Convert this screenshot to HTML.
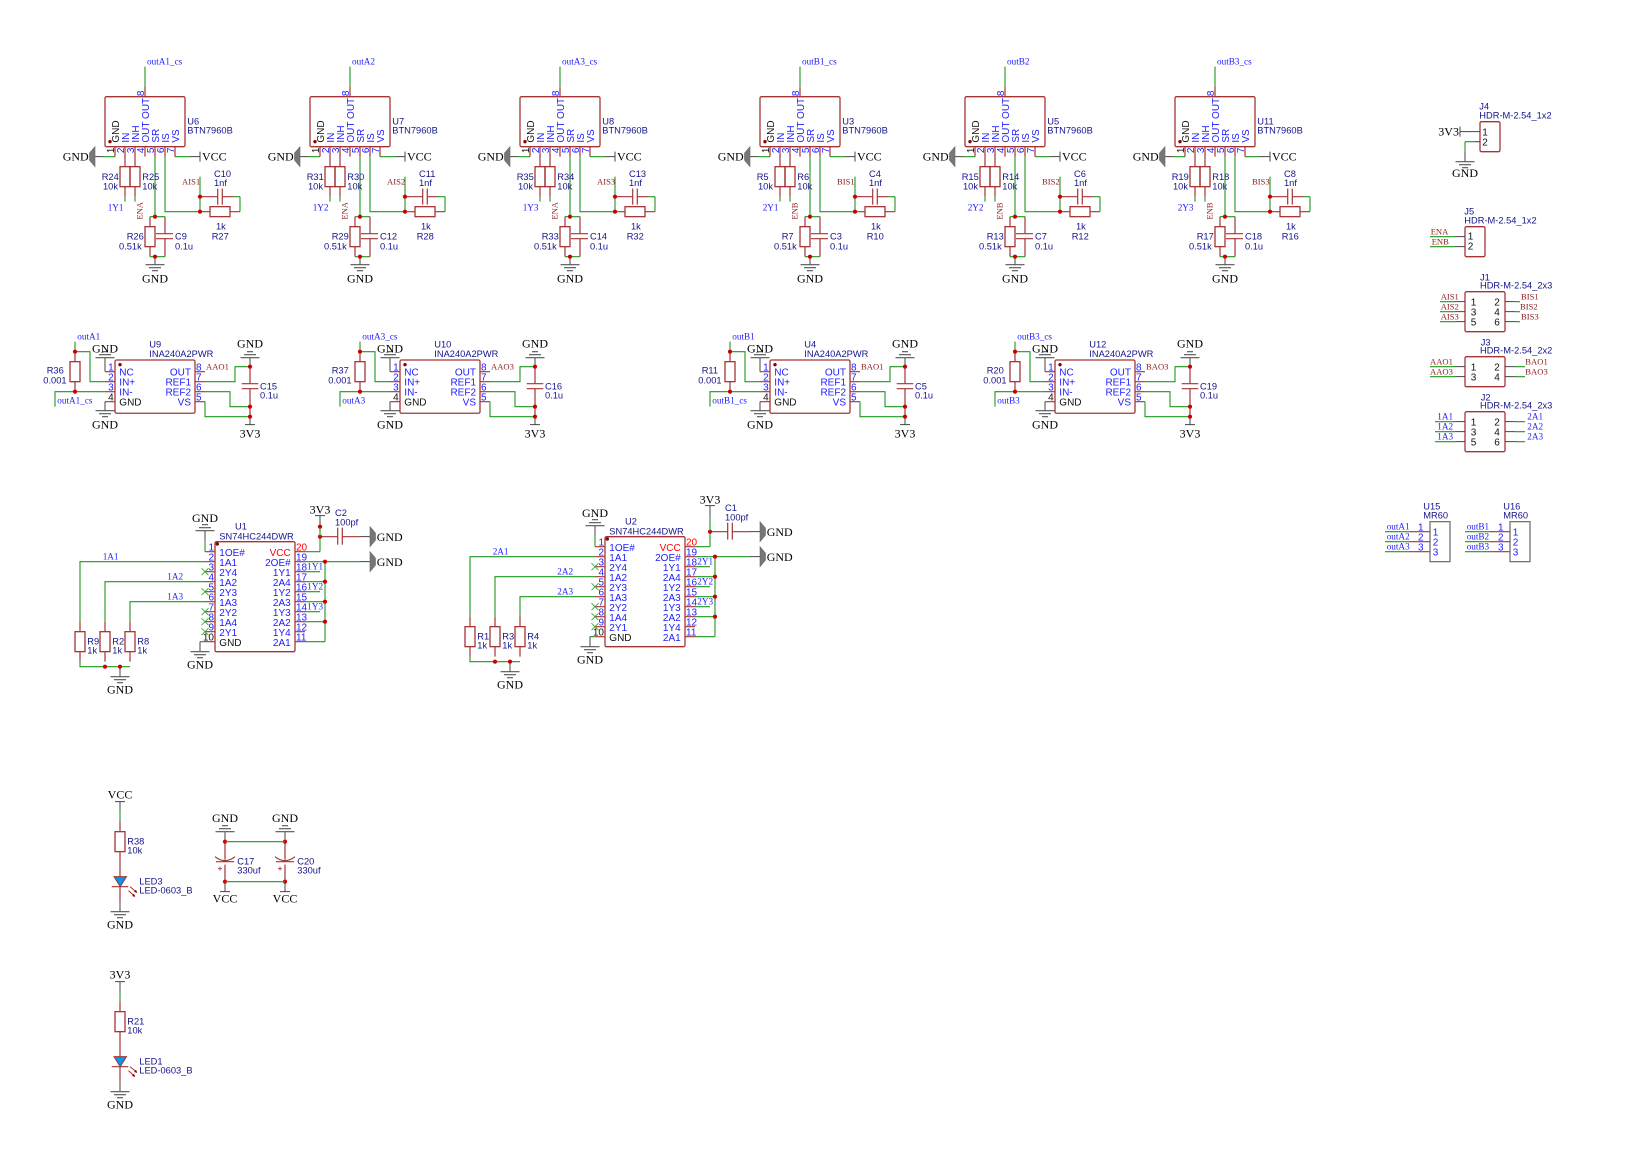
<!DOCTYPE html>
<html><head><meta charset="utf-8"><title>Schematic</title>
<style>
html,body{margin:0;padding:0;background:#fff}
svg{display:block}
.p{stroke:#a53535;stroke-width:1.2;fill:none}
.w{stroke:#1f961f;stroke-width:1.1;fill:none}
.g{stroke:#444;stroke-width:1;fill:none}
.t{stroke:#555;stroke-width:1.2;fill:none}
.o{stroke:#a53535;stroke-width:1.3;fill:none}
.dot{fill:#cc0000}
.pd{fill:#880000}
text{font-family:"Liberation Sans",sans-serif;font-size:9.3px;fill:#14148c}
text:not([transform]){transform:translateY(.6px)}
.n{font-size:10px;fill:#1c1cff}
.k{font-size:10px;fill:#111}
.r{font-size:10px;fill:#ff0000}
.b{font-family:"Liberation Serif",serif;font-size:9.2px;fill:#1c1cff}
.m{font-family:"Liberation Serif",serif;font-size:8.6px;fill:#8c2020}
.s{font-family:"Liberation Serif",serif;font-size:12px;fill:#000}
.e{text-anchor:end}
.c{text-anchor:middle}
</style></head><body>
<svg xmlns="http://www.w3.org/2000/svg" width="1652" height="1170" viewBox="0 0 1652 1170">
<rect width="1652" height="1170" fill="#fff"/>
<defs>
<g id="gd" class="t"><path d="M-9.5 0H9.5M-6 3H6M-3 6H3"/></g>
<g id="gu" class="t"><path d="M-9.5 0H9.5M-6 -3H6M-3 -6H3"/></g>
<g id="gl"><path d="M0 -10V10L-5.5 3.5V-3.5Z" fill="#777" stroke="#666" stroke-width=".6"/></g>
<g id="gr"><path d="M0 -10V10L5.5 3.5V-3.5Z" fill="#777" stroke="#666" stroke-width=".6"/></g>
<g id="x" stroke="#33aa33" stroke-width=".9"><path d="M-3.5 -3.5L3.5 3.5M-3.5 3.5L3.5 -3.5"/></g>

<g id="btn">
<rect class="o" x="105" y="97" width="80" height="50" rx="1.5"/>
<path class="p" d="M145 87V97M115 147V157M125 147V167M135 147V167M145 147V157M155 147V157M165 147V157M175 147V157M125 187V197M135 187V197"/>
<rect class="o" x="120" y="167" width="10" height="20"/><rect class="o" x="130" y="167" width="10" height="20"/>
<path class="p" d="M150 217V227M150 247V257M165 217V234M165 239V257M156 234H173M156 239H173"/>
<rect class="o" x="145" y="227" width="10" height="20"/>
<path class="p" d="M200 197H217.7M217.7 189V205M222.3 189V205M222.3 197H233M200 212H210M230 212H240"/>
<rect class="o" x="210" y="207" width="20" height="10"/>
<path class="w" d="M145 67V87M103 157H115M175 157H190M125 197V202M135 197V202M155 157V217M150 217H165M150 257H165M165 157V212H200M200 177V212M240 197V212M233 197H240"/>
<path class="g" d="M95 157H103M190 157H200M200 152V162M155 257V265"/>
<use href="#gl" x="95" y="157"/><use href="#gd" x="155" y="265"/>
<circle class="dot" cx="200" cy="197" r="2.1"/><circle class="dot" cx="200" cy="212" r="2.1"/><circle class="dot" cx="155" cy="217" r="2.1"/><circle class="dot" cx="155" cy="257" r="2.1"/>
<circle class="pd" cx="110" cy="142" r="1.7"/>
<text class="k" x="119" y="143" transform="rotate(-90 119 143)">GND</text>
<text class="n" x="129" y="143" transform="rotate(-90 129 143)">IN</text>
<text class="n" x="139" y="143" transform="rotate(-90 139 143)">INH</text>
<text class="n" x="149" y="143" transform="rotate(-90 149 143)">OUT OUT</text>
<text class="n" x="159" y="143" transform="rotate(-90 159 143)">SR</text>
<text class="n" x="169" y="143" transform="rotate(-90 169 143)">IS</text>
<text class="n" x="179" y="143" transform="rotate(-90 179 143)">VS</text>
<text class="k" x="114" y="153.5" transform="rotate(-90 114 153.5)">1</text>
<text class="n" x="124" y="153.5" transform="rotate(-90 124 153.5)">2</text>
<text class="n" x="134" y="153.5" transform="rotate(-90 134 153.5)">3</text>
<text class="n" x="144" y="153.5" transform="rotate(-90 144 153.5)">4</text>
<text class="n" x="154" y="153.5" transform="rotate(-90 154 153.5)">5</text>
<text class="n" x="164" y="153.5" transform="rotate(-90 164 153.5)">6</text>
<text class="n" x="174" y="153.5" transform="rotate(-90 174 153.5)">7</text>
<text class="n" x="144" y="96.5" transform="rotate(-90 144 96.5)">8</text>
<text class="s" x="62.7" y="160">GND</text><text class="s" x="202" y="160">VCC</text>
<text class="s c" x="155" y="282">GND</text>
<text x="103" y="189">10k</text><text x="142.3" y="189">10k</text>
<text x="119" y="249.3">0.51k</text><text x="175" y="249.3">0.1u</text>
<text x="214" y="185.7">1nf</text><text x="216" y="229.3">1k</text>
<text x="187.3" y="133.3">BTN7960B</text>
</g>

<g id="ina">
<rect class="o" x="115" y="360.3" width="80" height="53.3" rx="1.5"/>
<path class="p" d="M105 372H115M105 382H115M105 392H115M105 402H115M195 372H205M195 382H205M195 392H205M195 402H205M75 352V362M75 382V392M250 367V384M241.7 384H258.3M241.7 389H258.3M250 389V417"/>
<rect class="o" x="70" y="362" width="10" height="20"/>
<path class="w" d="M75 342V352H90V382H105M55 407V392H105M205 382H235V367H250M205 392H230V407H250M205 402V417H250"/>
<path class="g" d="M105 358V372M105 402V411M250 358V367M250 417V425M245 425H255"/>
<use href="#gu" x="105" y="358"/><use href="#gd" x="105" y="411"/><use href="#gu" x="250" y="358"/>
<circle class="dot" cx="75" cy="352" r="2.1"/><circle class="dot" cx="75" cy="392" r="2.1"/><circle class="dot" cx="250" cy="367" r="2.1"/><circle class="dot" cx="250" cy="407" r="2.1"/><circle class="dot" cx="250" cy="417" r="2.1"/>
<circle class="pd" cx="120" cy="365" r="1.7"/>
<text class="n" x="119.3" y="375.3">NC</text><text class="n" x="119.3" y="385.3">IN+</text><text class="n" x="119.3" y="395.3">IN-</text><text class="k" x="119.3" y="405.3">GND</text>
<text class="n e" x="191" y="375.3">OUT</text><text class="n e" x="191" y="385.3">REF1</text><text class="n e" x="191" y="395.3">REF2</text><text class="n e" x="191" y="405.3">VS</text>
<text class="n e" x="113.7" y="370">1</text><text class="n e" x="113.7" y="380">2</text><text class="n e" x="113.7" y="390">3</text><text class="k e" x="113.7" y="400">4</text>
<text class="n" x="196" y="370">8</text><text class="n" x="196" y="380">7</text><text class="n" x="196" y="390">6</text><text class="n" x="196" y="400">5</text>
<text class="s c" x="105" y="352.3">GND</text><text class="s c" x="105" y="428.3">GND</text><text class="s c" x="250" y="347.3">GND</text><text class="s c" x="250" y="437.3">3V3</text>
<text x="43.3" y="383.3">0.001</text><text x="260" y="398.3">0.1u</text><text x="149.3" y="356.7">INA240A2PWR</text>
</g>

<g id="sn">
<rect class="o" x="215" y="542" width="80" height="110" rx="1.5"/>
<path class="p" d="M205 552H215M205 562H215M205 572H215M205 582H215M205 592H215M205 602H215M205 612H215M205 622H215M205 632H215M205 642H215M295 552H305M295 562H305M295 572H305M295 582H305M295 592H305M295 602H305M295 612H305M295 622H305M295 632H305M295 642H305"/>
<path class="p" d="M80 622V632M80 652V662M105 622V632M105 652V662M130 622V632M130 652V662"/>
<rect class="o" x="75" y="632" width="10" height="20"/><rect class="o" x="100" y="632" width="10" height="20"/><rect class="o" x="125" y="632" width="10" height="20"/>
<path class="w" d="M80 622V562H205M105 622V582H205M130 622V602H205M80 662V667H130M205 552V541M205 642H200M305 552H320M320 537V552M305 562H360M325 562V642M305 582H325M305 602H325M305 622H325M305 642H325M305 572H320M305 592H320M305 612H320"/>
<path class="g" d="M120 667V677M205 541V531M200 642V652M360 537H370M360 562H370"/>
<path class="p" d="M320 537H337.7M337.7 528V545M342.3 528V545M342.3 537H360"/>
<use href="#gd" x="120" y="677"/><use href="#gu" x="205" y="531"/><use href="#gd" x="200" y="652"/><use href="#gr" x="370" y="537"/><use href="#gr" x="370" y="562"/>
<use href="#x" x="205" y="572"/><use href="#x" x="205" y="592"/><use href="#x" x="205" y="612"/><use href="#x" x="205" y="622"/><use href="#x" x="205" y="632"/>
<circle class="dot" cx="105" cy="667" r="2.1"/><circle class="dot" cx="120" cy="667" r="2.1"/><circle class="dot" cx="320" cy="537" r="2.1"/><circle class="dot" cx="325" cy="562" r="2.1"/><circle class="dot" cx="325" cy="582" r="2.1"/><circle class="dot" cx="325" cy="602" r="2.1"/><circle class="dot" cx="325" cy="622" r="2.1"/>
<circle class="pd" cx="217.3" cy="544.3" r="1.7"/>
<text class="n" x="219.3" y="555.7">1OE#</text><text class="n" x="219.3" y="565.7">1A1</text><text class="n" x="219.3" y="575.7">2Y4</text><text class="n" x="219.3" y="585.7">1A2</text><text class="n" x="219.3" y="595.7">2Y3</text><text class="n" x="219.3" y="605.7">1A3</text><text class="n" x="219.3" y="615.7">2Y2</text><text class="n" x="219.3" y="625.7">1A4</text><text class="n" x="219.3" y="635.7">2Y1</text><text class="k" x="219.3" y="645.7">GND</text>
<text class="r e" x="290.7" y="555.7">VCC</text><text class="n e" x="290.7" y="565.7">2OE#</text><text class="n e" x="290.7" y="575.7">1Y1</text><text class="n e" x="290.7" y="585.7">2A4</text><text class="n e" x="290.7" y="595.7">1Y2</text><text class="n e" x="290.7" y="605.7">2A3</text><text class="n e" x="290.7" y="615.7">1Y3</text><text class="n e" x="290.7" y="625.7">2A2</text><text class="n e" x="290.7" y="635.7">1Y4</text><text class="n e" x="290.7" y="645.7">2A1</text>
<text class="n e" x="214" y="550">1</text><text class="n e" x="214" y="560">2</text><text class="n e" x="214" y="570">3</text><text class="n e" x="214" y="580">4</text><text class="n e" x="214" y="590">5</text><text class="n e" x="214" y="600">6</text><text class="n e" x="214" y="610">7</text><text class="n e" x="214" y="620">8</text><text class="n e" x="214" y="630">9</text><text class="k e" x="214" y="640">10</text>
<text class="r" x="296" y="550">20</text><text class="n" x="296" y="560">19</text><text class="n" x="296" y="570">18</text><text class="n" x="296" y="580">17</text><text class="n" x="296" y="590">16</text><text class="n" x="296" y="600">15</text><text class="n" x="296" y="610">14</text><text class="n" x="296" y="620">13</text><text class="n" x="296" y="630">12</text><text class="n" x="296" y="640">11</text>
<text class="s c" x="120" y="693.3">GND</text><text class="s c" x="205" y="521.7">GND</text><text class="s c" x="200" y="668.3">GND</text><text class="s" x="376.7" y="540.5">GND</text><text class="s" x="376.7" y="565.5">GND</text>
<text x="87.3" y="653.3">1k</text><text x="112.3" y="653.3">1k</text><text x="137.3" y="653.3">1k</text>
<text x="335" y="525">100pf</text><text x="219.3" y="539">SN74HC244DWR</text>
</g>

<g id="led">
<path class="g" d="M115 802H125M120 802V812"/><path class="w" d="M120 812V822"/>
<path class="p" d="M120 822V832M120 852V877M120 887V902"/>
<rect class="o" x="115" y="832" width="10" height="20"/>
<path d="M114 877H126.5L120.2 887Z" fill="#0099ee" stroke="#a53535" stroke-width="1"/>
<path class="p" d="M111.7 887H128.3"/>
<path d="M130 887L137 893M128.5 891L135 897" stroke="#b03030" stroke-width="1" fill="none"/>
<path d="M137 893L134 892.5L136 890ZM135 897L132 896.5L134 894Z" fill="#700"/>
<path class="g" d="M120 902V912"/><use href="#gd" x="120" y="912"/>
<text class="s c" x="120" y="928.3">GND</text>
<text x="127.3" y="853.3">10k</text><text x="139.3" y="893.3">LED-0603_B</text>
</g>

<g id="cap">
<path class="g" d="M225 832V842"/><use href="#gu" x="225" y="832"/>
<path class="p" d="M225 842V860M225 865V882M215 857Q225 865 235 857M216 862H234"/>
<path d="M218 869H222M220 867V871" stroke="#a33" stroke-width=".8"/>
<path class="g" d="M225 882V892M220 892H230"/>
<circle class="dot" cx="225" cy="842" r="2.1"/><circle class="dot" cx="225" cy="882" r="2.1"/>
<text class="s c" x="225" y="821.7">GND</text><text class="s c" x="225" y="902.3">VCC</text>
<text x="237.3" y="873.3">330uf</text>
</g>
</defs>

<g transform="translate(0,-.33)">
<g><use href="#btn"/><text class="b" x="147" y="64">outA1_cs</text><text x="187.3" y="124">U6</text><text x="101.7" y="179.5">R24</text><text x="142.3" y="179.5">R25</text><text class="b" x="107.7" y="210">1Y1</text><text class="m" x="142.7" y="220" transform="rotate(-90 142.7 220)">ENA</text><text x="126.7" y="239.3">R26</text><text x="175" y="239.3">C9</text><text class="m" x="182" y="184.3">AIS1</text><text x="214" y="176.7">C10</text><text x="211.7" y="239.3">R27</text></g>
<g transform="translate(205)"><use href="#btn"/><text class="b" x="147" y="64">outA2</text><text x="187.3" y="124">U7</text><text x="101.7" y="179.5">R31</text><text x="142.3" y="179.5">R30</text><text class="b" x="107.7" y="210">1Y2</text><text class="m" x="142.7" y="220" transform="rotate(-90 142.7 220)">ENA</text><text x="126.7" y="239.3">R29</text><text x="175" y="239.3">C12</text><text class="m" x="182" y="184.3">AIS2</text><text x="214" y="176.7">C11</text><text x="211.7" y="239.3">R28</text></g>
<g transform="translate(415)"><use href="#btn"/><text class="b" x="147" y="64">outA3_cs</text><text x="187.3" y="124">U8</text><text x="101.7" y="179.5">R35</text><text x="142.3" y="179.5">R34</text><text class="b" x="107.7" y="210">1Y3</text><text class="m" x="142.7" y="220" transform="rotate(-90 142.7 220)">ENA</text><text x="126.7" y="239.3">R33</text><text x="175" y="239.3">C14</text><text class="m" x="182" y="184.3">AIS3</text><text x="214" y="176.7">C13</text><text x="211.7" y="239.3">R32</text></g>
<g transform="translate(655)"><use href="#btn"/><text class="b" x="147" y="64">outB1_cs</text><text x="187.3" y="124">U3</text><text x="101.7" y="179.5">R5</text><text x="142.3" y="179.5">R6</text><text class="b" x="107.7" y="210">2Y1</text><text class="m" x="142.7" y="220" transform="rotate(-90 142.7 220)">ENB</text><text x="126.7" y="239.3">R7</text><text x="175" y="239.3">C3</text><text class="m" x="182" y="184.3">BIS1</text><text x="214" y="176.7">C4</text><text x="211.7" y="239.3">R10</text></g>
<g transform="translate(860)"><use href="#btn"/><text class="b" x="147" y="64">outB2</text><text x="187.3" y="124">U5</text><text x="101.7" y="179.5">R15</text><text x="142.3" y="179.5">R14</text><text class="b" x="107.7" y="210">2Y2</text><text class="m" x="142.7" y="220" transform="rotate(-90 142.7 220)">ENB</text><text x="126.7" y="239.3">R13</text><text x="175" y="239.3">C7</text><text class="m" x="182" y="184.3">BIS2</text><text x="214" y="176.7">C6</text><text x="211.7" y="239.3">R12</text></g>
<g transform="translate(1070)"><use href="#btn"/><text class="b" x="147" y="64">outB3_cs</text><text x="187.3" y="124">U11</text><text x="101.7" y="179.5">R19</text><text x="142.3" y="179.5">R18</text><text class="b" x="107.7" y="210">2Y3</text><text class="m" x="142.7" y="220" transform="rotate(-90 142.7 220)">ENB</text><text x="126.7" y="239.3">R17</text><text x="175" y="239.3">C18</text><text class="m" x="182" y="184.3">BIS3</text><text x="214" y="176.7">C8</text><text x="211.7" y="239.3">R16</text></g>

<g><use href="#ina"/><text x="149.3" y="347.3">U9</text><text class="b" x="77.3" y="339">outA1</text><text class="b" x="57.3" y="403.3">outA1_cs</text><text x="46.7" y="373.3">R36</text><text class="m" x="206" y="369.3">AAO1</text><text x="260" y="389">C15</text></g>
<g transform="translate(285)"><use href="#ina"/><text x="149.3" y="347.3">U10</text><text class="b" x="77.3" y="339">outA3_cs</text><text class="b" x="57.3" y="403.3">outA3</text><text x="46.7" y="373.3">R37</text><text class="m" x="206" y="369.3">AAO3</text><text x="260" y="389">C16</text></g>
<g transform="translate(655)"><use href="#ina"/><text x="149.3" y="347.3">U4</text><text class="b" x="77.3" y="339">outB1</text><text class="b" x="57.3" y="403.3">outB1_cs</text><text x="46.7" y="373.3">R11</text><text class="m" x="206" y="369.3">BAO1</text><text x="260" y="389">C5</text></g>
<g transform="translate(940)"><use href="#ina"/><text x="149.3" y="347.3">U12</text><text class="b" x="77.3" y="339">outB3_cs</text><text class="b" x="57.3" y="403.3">outB3</text><text x="46.7" y="373.3">R20</text><text class="m" x="206" y="369.3">BAO3</text><text x="260" y="389">C19</text></g>

<g><use href="#sn"/>
<path class="w" d="M320 537V527"/><path class="g" d="M320 527V516M315 516H325"/><circle class="dot" cx="320" cy="527" r="2.1"/>
<text class="s c" x="320" y="513.3">3V3</text>
<text x="235" y="529.3">U1</text><text x="335" y="515.7">C2</text>
<text class="b" x="102.7" y="559">1A1</text><text class="b" x="167.3" y="579.3">1A2</text><text class="b" x="167.3" y="599">1A3</text>
<text class="b" x="307.3" y="569.3">1Y1</text><text class="b" x="307.3" y="589.3">1Y2</text><text class="b" x="307.3" y="609.3">1Y3</text>
<text x="87.3" y="644">R9</text><text x="112.3" y="644">R2</text><text x="137.3" y="644">R8</text></g>
<g transform="translate(390,-5)"><use href="#sn"/>
<path class="w" d="M320 537V522"/><path class="g" d="M320 522V511M315 511H325"/>
<text class="s c" x="320" y="508.3">3V3</text>
<text x="235" y="529.3">U2</text><text x="335" y="515.7">C1</text>
<text class="b" x="102.7" y="559">2A1</text><text class="b" x="167.3" y="579.3">2A2</text><text class="b" x="167.3" y="599">2A3</text>
<text class="b" x="307.3" y="569.3">2Y1</text><text class="b" x="307.3" y="589.3">2Y2</text><text class="b" x="307.3" y="609.3">2Y3</text>
<text x="87.3" y="644">R1</text><text x="112.3" y="644">R3</text><text x="137.3" y="644">R4</text></g>

<!-- J4 -->
<rect class="o" x="1480" y="122" width="20" height="30" rx="1.5"/>
<path class="g" d="M1460 127V137M1460 132H1480M1465 152V162"/><path class="p" d="M1475 142H1480"/>
<path class="w" d="M1465 142H1475M1465 142V152"/><use href="#gd" x="1465" y="162"/>
<text class="s" x="1438.3" y="135">3V3</text><text class="s c" x="1465" y="176.7">GND</text>
<text class="k" x="1482.3" y="135">1</text><text class="k" x="1482.3" y="145">2</text>
<text x="1479.3" y="109.3">J4</text><text x="1479.3" y="118.3">HDR-M-2.54_1x2</text>
<!-- J5 -->
<rect class="o" x="1465" y="227" width="20" height="30" rx="1.5"/>
<path class="w" d="M1430 237H1455M1430 247H1455"/><path class="g" d="M1455 237H1465M1455 247H1465"/>
<text class="m" x="1430.7" y="234.3">ENA</text><text class="m" x="1431.7" y="244.3">ENB</text>
<text class="k" x="1467.7" y="239.3">1</text><text class="k" x="1467.7" y="249.3">2</text>
<text x="1464.3" y="214">J5</text><text x="1464.3" y="223.3">HDR-M-2.54_1x2</text>
<!-- J1 -->
<rect class="o" x="1465" y="292" width="40" height="40" rx="1.5"/>
<path class="w" d="M1440 302H1455M1440 312H1455M1440 322H1455M1515 302H1520M1515 312H1520M1515 322H1520"/>
<path class="g" d="M1455 302H1465M1455 312H1465M1455 322H1465M1505 302H1515M1505 312H1515M1505 322H1515"/>
<text class="m" x="1440.7" y="299.3">AIS1</text><text class="m" x="1440.7" y="309.3">AIS2</text><text class="m" x="1440.7" y="319.3">AIS3</text>
<text class="m" x="1521" y="299.3">BIS1</text><text class="m" x="1520" y="309.3">BIS2</text><text class="m" x="1521" y="319.3">BIS3</text>
<text class="k" x="1470.7" y="305">1</text><text class="k" x="1470.7" y="315">3</text><text class="k" x="1470.7" y="325">5</text><text class="k" x="1494.3" y="305">2</text><text class="k" x="1494.3" y="315">4</text><text class="k" x="1494.3" y="325">6</text>
<text x="1480" y="280">J1</text><text x="1480" y="288.3">HDR-M-2.54_2x3</text>
<!-- J3 -->
<rect class="o" x="1465" y="357" width="40" height="30" rx="1.5"/>
<path class="w" d="M1430 367H1455M1430 377H1455M1515 367H1525M1515 377H1525"/>
<path class="g" d="M1455 367H1465M1455 377H1465M1505 367H1515M1505 377H1515"/>
<text class="m" x="1430" y="364.3">AAO1</text><text class="m" x="1430" y="374.3">AAO3</text><text class="m" x="1525.3" y="364.3">BAO1</text><text class="m" x="1525.3" y="374.3">BAO3</text>
<text class="k" x="1470.7" y="370">1</text><text class="k" x="1470.7" y="380">3</text><text class="k" x="1494.3" y="370">2</text><text class="k" x="1494.3" y="380">4</text>
<text x="1480.7" y="345">J3</text><text x="1480" y="353.3">HDR-M-2.54_2x2</text>
<!-- J2 -->
<rect class="o" x="1465" y="412" width="40" height="40" rx="1.5"/>
<path class="w" d="M1435 422H1455M1435 432H1455M1435 442H1455M1515 422H1525M1515 432H1525M1515 442H1525"/>
<path class="g" d="M1455 422H1465M1455 432H1465M1455 442H1465M1505 422H1515M1505 432H1515M1505 442H1515"/>
<text class="b" x="1437.3" y="419.3">1A1</text><text class="b" x="1437.3" y="429.3">1A2</text><text class="b" x="1437.3" y="439.3">1A3</text>
<text class="b" x="1527.3" y="419.3">2A1</text><text class="b" x="1527.3" y="429.3">2A2</text><text class="b" x="1527.3" y="439.3">2A3</text>
<text class="k" x="1470.7" y="425">1</text><text class="k" x="1470.7" y="435">3</text><text class="k" x="1470.7" y="445">5</text><text class="k" x="1494.3" y="425">2</text><text class="k" x="1494.3" y="435">4</text><text class="k" x="1494.3" y="445">6</text>
<text x="1480.7" y="400">J2</text><text x="1480" y="408.3">HDR-M-2.54_2x3</text>
<!-- U15 / U16 -->
<g><rect x="1430" y="522" width="20" height="40" fill="none" stroke="#666" stroke-width="1.2"/>
<path class="w" d="M1385 532H1410M1385 542H1410M1385 552H1410"/><path class="p" d="M1410 532H1430M1410 542H1430M1410 552H1430"/>
<text class="b" x="1386.7" y="529.3">outA1</text><text class="b" x="1386.7" y="539.3">outA2</text><text class="b" x="1386.7" y="549.3">outA3</text>
<text class="n" x="1418" y="530">1</text><text class="n" x="1418" y="540">2</text><text class="n" x="1418" y="550">3</text>
<text class="n" x="1432.7" y="535">1</text><text class="n" x="1432.7" y="545">2</text><text class="n" x="1432.7" y="555">3</text>
<text x="1423.3" y="509.3">U15</text><text x="1423.3" y="518.3">MR60</text></g>
<g transform="translate(80)"><rect x="1430" y="522" width="20" height="40" fill="none" stroke="#666" stroke-width="1.2"/>
<path class="w" d="M1385 532H1410M1385 542H1410M1385 552H1410"/><path class="p" d="M1410 532H1430M1410 542H1430M1410 552H1430"/>
<text class="b" x="1386.7" y="529.3">outB1</text><text class="b" x="1386.7" y="539.3">outB2</text><text class="b" x="1386.7" y="549.3">outB3</text>
<text class="n" x="1418" y="530">1</text><text class="n" x="1418" y="540">2</text><text class="n" x="1418" y="550">3</text>
<text class="n" x="1432.7" y="535">1</text><text class="n" x="1432.7" y="545">2</text><text class="n" x="1432.7" y="555">3</text>
<text x="1423.3" y="509.3">U16</text><text x="1423.3" y="518.3">MR60</text></g>
<!-- LEDs -->
<use href="#led"/><text class="s c" x="120" y="798.3">VCC</text><text x="127.3" y="844">R38</text><text x="139.3" y="884">LED3</text>
<g transform="translate(0,180)"><use href="#led"/><text class="s c" x="120" y="798.3">3V3</text><text x="127.3" y="844">R21</text><text x="139.3" y="884">LED1</text></g>
<!-- caps -->
<use href="#cap"/><text x="237.3" y="864">C17</text>
<g transform="translate(60)"><use href="#cap"/><text x="237.3" y="864">C20</text></g>
<path class="w" d="M225 842H285M225 882H285"/>
</g>
</svg>
</body></html>
